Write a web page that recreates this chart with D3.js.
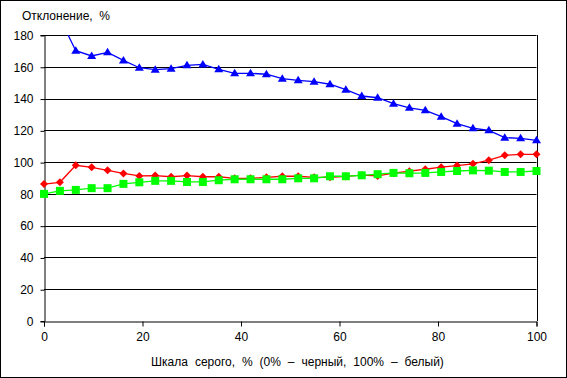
<!DOCTYPE html>
<html><head><meta charset="utf-8">
<script src="https://cdn.jsdelivr.net/npm/d3@7"></script>
<style>
html,body{margin:0;padding:0;background:#fff;}
text{font-family:"Liberation Sans",Arial,sans-serif;font-size:12px;fill:#000;}
</style></head><body>
<svg id="chart" width="567" height="378"></svg>
<script>
const xTicks = [0, 20, 40, 60, 80, 100];
const yTicks = [0, 20, 40, 60, 80, 100, 120, 140, 160, 180];
const pointCount = 32;
const xValues = d3.range(pointCount).map(i => i * 100 / (pointCount - 1));
const blueValues = [205, 190.5, 170.1, 166.8, 169.1, 164, 159.4, 158.2, 158.8, 160.9, 161.5, 158.4, 155.9, 155.9, 155.3, 152.5,
  151.5, 150.6, 149, 145.6, 141.6, 140.5, 136.8, 134.2, 132.6, 128.6, 124.2, 121.3, 120, 115.4, 115, 113.7];
const redValues = [86.2, 87.3, 98, 96.7, 94.8, 92.9, 91.3, 91.5, 90.8, 91.5, 90.8, 90.8, 89.8, 89.8, 90.4, 91.1,
  91.1, 90.4, 90.4, 91.0, 91.8, 91.3, 93.0, 94.3, 95.5, 96.8, 97.8, 98.9, 101.2, 104.3, 104.9, 104.9];
const greenValues = [80, 81.9, 82.5, 83.6, 83.6, 86.3, 87.3, 88.2, 88.2, 87.5, 87.5, 88.6, 89.2, 89.2, 89.2, 89.2,
  89.8, 89.8, 91.1, 91.1, 91.7, 92.4, 93.2, 93.0, 93.2, 93.8, 94.4, 94.8, 94.6, 93.8, 93.8, 94.4];
const yTitle = "Отклонение,  %";
const xTitle = "Шкала серого, % (0% – черный, 100% – белый)";

const svg = d3.select("#chart");
const W = 567, H = 378;
const m = {left: 44, right: 30.5, top: 35, bottom: 57};
const x = d3.scaleLinear().domain([0, 100]).range([m.left, W - m.right]);
const y = d3.scaleLinear().domain([0, 180]).range([H - m.bottom, m.top]);

// outer border
svg.append("rect").attr("x", 0.5).attr("y", 0.5).attr("width", W - 1).attr("height", H - 1)
  .attr("fill", "#fff").attr("stroke", "#000").attr("stroke-width", 1);

// gridlines
svg.append("g").selectAll("line").data(yTicks.filter(d => d > 0)).join("line")
  .attr("x1", x(0)).attr("x2", x(100))
  .attr("y1", d => Math.round(y(d)) + 0.5).attr("y2", d => Math.round(y(d)) + 0.5)
  .attr("stroke", "#000").attr("stroke-width", 1);
// right border of plot
svg.append("line").attr("x1", Math.round(x(100)) + 0.5).attr("x2", Math.round(x(100)) + 0.5)
  .attr("y1", y(180)).attr("y2", y(0)).attr("stroke", "#000");

// axes
const yAxis = svg.append("g").attr("transform", `translate(${m.left + 0.5},0)`)
  .call(d3.axisLeft(y).tickValues(yTicks).tickSize(4).tickPadding(7).tickFormat(d3.format("d")));
const xAxis = svg.append("g").attr("transform", `translate(0,${Math.round(y(0)) + 0.5})`)
  .call(d3.axisBottom(x).tickValues(xTicks).tickSize(5).tickPadding(6).tickFormat(d3.format("d")));
[yAxis, xAxis].forEach(a => {
  a.select(".domain").attr("stroke", "#000").attr("stroke-width", 1);
  a.selectAll(".tick line").attr("stroke", "#000");
  a.selectAll("text").attr("font-family", "Liberation Sans, Arial, sans-serif").attr("font-size", 12).attr("fill", "#000");
});
yAxis.selectAll(".tick line").attr("transform", "translate(0,0.5)");
yAxis.selectAll(".tick text").attr("dy", "0.36em");

// clip (lines only)
svg.append("clipPath").attr("id", "plotclip").append("rect")
  .attr("x", m.left).attr("y", m.top).attr("width", x(100) - m.left + 1).attr("height", y(0) - m.top);

const plot = svg.append("g").attr("clip-path", "url(#plotclip)");
const marks = svg.append("g");
const series = [
  {vals: blueValues, color: "#0000ff", shape: "tri"},
  {vals: redValues, color: "#ff0000", shape: "dia"},
  {vals: greenValues, color: "#00ff00", shape: "sq"}
];
const shapes = {
  tri: "M0,-4.5L4.5,3L-4.5,3Z",
  dia: "M0,-4L4,0L0,4L-4,0Z",
  sq: "M-4,-4H4V4H-4Z"
};
const line = d3.line().x((d, i) => x(xValues[i])).y(d => y(d));
series.forEach(s => {
  plot.append("path").datum(s.vals).attr("d", line)
    .attr("fill", "none").attr("stroke", s.color).attr("stroke-width", 1.3);
});
series.forEach(s => {
  marks.append("g").selectAll("path")
    .data(s.vals.map((v, i) => ({v, i})).filter(d => d.v <= 180)).join("path")
    .attr("d", shapes[s.shape])
    .attr("transform", d => `translate(${x(xValues[d.i])},${y(d.v)})`)
    .attr("fill", s.color);
});

// titles
svg.append("text").attr("x", 22).attr("y", 20).style("white-space", "pre").text(yTitle);
svg.append("text").attr("x", 297.5).attr("y", 366).attr("text-anchor", "middle")
  .style("white-space", "pre").attr("word-spacing", 3.6).text(xTitle);
</script>
</body></html>
